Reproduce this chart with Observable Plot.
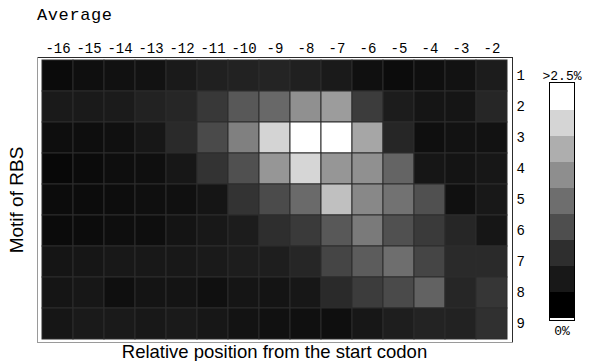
<!DOCTYPE html>
<html>
<head>
<meta charset="utf-8">
<script src="https://cdn.jsdelivr.net/npm/d3@7"></script>
<script src="https://cdn.jsdelivr.net/npm/@observablehq/plot@0.6"></script>
<style>
  html, body { margin: 0; padding: 0; background: #fff; }
  #wrap { position: relative; width: 591px; height: 361px; overflow: hidden; }
  #wrap svg { position: absolute; overflow: visible; }
  .lbl { position: absolute; white-space: nowrap; color: #000; }
</style>
</head>
<body>
<div id="wrap"></div>
<script>
// Columns: relative position from the start codon
const positions = ["-16","-15","-14","-13","-12","-11","-10","-9","-8","-7","-6","-5","-4","-3","-2"];
// Rows: motif of RBS
const motifs = ["1","2","3","4","5","6","7","8","9"];
// Average frequency (%) per motif (rows) and position (columns)
const motif1 = [0.11,0.15,0.17,0.18,0.25,0.31,0.33,0.35,0.31,0.25,0.16,0.12,0.15,0.18,0.27];
const motif2 = [0.25,0.25,0.26,0.33,0.37,0.55,0.86,1.02,1.41,1.53,0.59,0.27,0.21,0.21,0.37];
const motif3 = [0.14,0.14,0.16,0.23,0.41,0.73,1.25,2.08,2.60,2.70,1.63,0.37,0.15,0.18,0.18];
const motif4 = [0.08,0.11,0.14,0.15,0.23,0.50,0.78,1.47,2.10,1.47,1.41,0.98,0.22,0.20,0.23];
const motif5 = [0.12,0.12,0.13,0.15,0.16,0.21,0.50,0.74,1.04,1.88,1.33,1.12,0.78,0.16,0.24];
const motif6 = [0.11,0.12,0.14,0.14,0.20,0.24,0.27,0.45,0.57,0.86,1.20,0.78,0.57,0.37,0.22];
const motif7 = [0.21,0.22,0.24,0.24,0.24,0.25,0.28,0.29,0.37,0.68,0.90,1.08,0.68,0.41,0.41];
const motif8 = [0.21,0.23,0.15,0.20,0.20,0.16,0.21,0.20,0.23,0.41,0.59,0.73,0.96,0.37,0.53];
const motif9 = [0.22,0.25,0.25,0.24,0.25,0.23,0.19,0.17,0.16,0.15,0.23,0.29,0.34,0.33,0.47];
const motifRows = [motif1, motif2, motif3, motif4, motif5, motif6, motif7, motif8, motif9];
// Legend levels (top to bottom)
const legendLevels = [2.5, 2.09, 1.71, 1.39, 1.08, 0.76, 0.45, 0.24, 0.0];
const legendTop = ">2.5%";
const legendBottom = "0%";

const cells = motifRows.flatMap((row, i) => row.map((v, j) => ({pos: positions[j], motif: motifs[i], v})));
const colorScale = {type: "linear", domain: [0, 2.5], range: ["#000000", "#ffffff"], clamp: true};
const mono = "'Liberation Mono', 'DejaVu Sans Mono', monospace";

const wrap = document.getElementById("wrap");

const main = Plot.plot({
  width: 591, height: 361,
  marginLeft: 37, marginRight: 79, marginTop: 57, marginBottom: 19,
  style: {background: "transparent"},
  x: {domain: positions, padding: 0, label: null},
  y: {domain: motifs, padding: 0, label: null},
  color: colorScale,
  marks: [
    Plot.cell(cells, {x: "pos", y: "motif", fill: "v", stroke: "#2c2c2c", strokeWidth: 1}),
    Plot.frame({stroke: "#2c2c2c"}),
    Plot.frame({anchor: "left", stroke: "#9a9a9a"}),
    Plot.frame({anchor: "bottom", stroke: "#9a9a9a"}),
    Plot.axisX({anchor: "top", tickSize: 0, tickPadding: 5, label: null, fontSize: 14, fontFamily: mono, fill: "#000"}),
    Plot.axisY({anchor: "right", tickSize: 0, tickPadding: 4, label: null, fontSize: 14, fontFamily: mono, fill: "#000"})
  ]
});
main.style.left = "0px"; main.style.top = "0px";
wrap.appendChild(main);

const legend = Plot.plot({
  width: 60, height: 300,
  marginLeft: 14, marginRight: 21, marginTop: 22, marginBottom: 40,
  style: {background: "transparent"},
  x: {axis: null},
  y: {domain: d3.range(legendLevels.length), padding: 0, axis: null},
  color: colorScale,
  marks: [
    Plot.cell(legendLevels, {y: (d, i) => i, fill: d => d}),
    Plot.frame({stroke: "#000"}),
    Plot.text([legendTop], {frameAnchor: "top", dy: -3, lineAnchor: "bottom", fontSize: 13, fontFamily: mono, fill: "#000"}),
    Plot.text([legendBottom], {frameAnchor: "bottom", dy: 5, lineAnchor: "top", fontSize: 13, fontFamily: mono, fill: "#000"})
  ]
});
legend.style.left = "535px"; legend.style.top = "60px";
wrap.appendChild(legend);

function addLabel(text, css) {
  const d = document.createElement("div");
  d.className = "lbl";
  d.textContent = text;
  Object.assign(d.style, css);
  wrap.appendChild(d);
  return d;
}
addLabel("Average", {left: "37px", top: "6px", fontFamily: mono, fontSize: "17px", letterSpacing: "0.6px"});
addLabel("Relative position from the start codon", {left: "274.5px", top: "342px", transform: "translateX(-50%)", fontFamily: "'Liberation Sans', Arial, sans-serif", fontSize: "18.5px", lineHeight: "20px"});
addLabel("Motif of RBS", {left: "17px", top: "200px", transform: "translate(-50%, -50%) rotate(-90deg)", fontFamily: "'Liberation Sans', Arial, sans-serif", fontSize: "19px", lineHeight: "20px"});
</script>
</body>
</html>
